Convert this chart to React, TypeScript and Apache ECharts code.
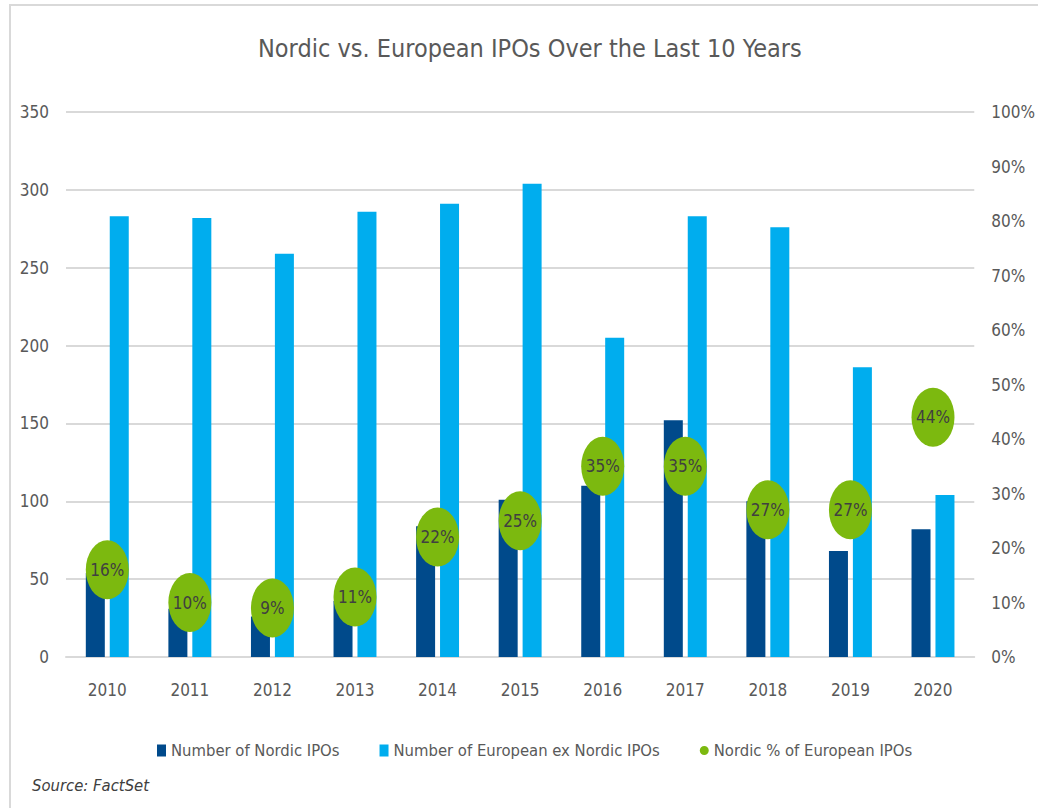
import React, { useEffect, useRef } from "react";
import * as echarts from "echarts";

const years = ["2010", "2011", "2012", "2013", "2014", "2015", "2016", "2017", "2018", "2019", "2020"];
const nordicIPOs = [54, 31, 26, 36, 84, 101, 110, 152, 100, 68, 82];
const europeanExNordicIPOs = [283, 282, 259, 286, 291, 304, 205, 283, 276, 186, 104];
const nordicPct = [16, 10, 9, 11, 22, 25, 35, 35, 27, 27, 44];
const leftTicks = { min: 0, max: 350, interval: 50 };
const rightTicks = { min: 0, max: 100, interval: 10 };

const FONT = "'Liberation Sans Narrow', 'DejaVu Sans Condensed', 'Noto Sans', sans-serif";
const ELLIPSE = "path://M0,-1 A1,1 0 1,1 0,1 A1,1 0 1,1 0,-1 Z";

export default function App() {
  const ref = useRef<HTMLDivElement>(null);
  useEffect(() => {
    if (!ref.current) return;
    const chart = echarts.init(ref.current, null, { renderer: "svg" });
    chart.setOption({
      animation: false,
      backgroundColor: "#ffffff",
      textStyle: { fontFamily: FONT },
      title: {
        text: "Nordic vs. European IPOs Over the Last 10 Years",
        left: 258,
        top: 36,
        padding: 0,
        textStyle: { fontFamily: FONT, fontSize: 25, fontWeight: "normal", color: "#595959" },
      },
      graphic: [
        {
          type: "rect",
          shape: { x: 10, y: 5, width: 1100, height: 900 },
          style: { fill: "none", stroke: "#d9d9d9", lineWidth: 2 },
          silent: true,
        },
        {
          type: "text",
          left: 32,
          top: 777,
          style: {
            text: "Source: FactSet",
            font: `italic 16.5px ${FONT}`,
            fill: "#404040",
          },
        },
      ],
      legend: {
        left: 157,
        top: 742,
        padding: 0,
        itemWidth: 9,
        itemHeight: 12,
        itemGap: 40,
        textStyle: { fontFamily: FONT, fontSize: 16.5, color: "#595959" },
        data: [
          { name: "Number of Nordic IPOs", icon: "rect" },
          { name: "Number of European ex Nordic IPOs", icon: "rect" },
          { name: "Nordic % of European IPOs", icon: ELLIPSE },
        ],
      },
      grid: { left: 66, right: 60, top: 112, bottom: 151, containLabel: false },
      xAxis: {
        type: "category",
        data: years,
        axisLine: { show: true, lineStyle: { color: "#d9d9d9", width: 2 } },
        axisTick: { show: false },
        axisLabel: { color: "#595959", fontSize: 17, fontFamily: FONT, margin: 24 },
      },
      yAxis: [
        {
          type: "value",
          min: leftTicks.min,
          max: leftTicks.max,
          interval: leftTicks.interval,
          axisLine: { show: false },
          axisTick: { show: false },
          splitLine: { show: true, lineStyle: { color: "#d9d9d9", width: 2 } },
          axisLabel: { color: "#595959", fontSize: 17, fontFamily: FONT, margin: 17 },
        },
        {
          type: "value",
          min: rightTicks.min,
          max: rightTicks.max,
          interval: rightTicks.interval,
          axisLine: { show: false },
          axisTick: { show: false },
          splitLine: { show: false },
          axisLabel: { color: "#595959", fontSize: 17, fontFamily: FONT, margin: 17, formatter: "{value}%" },
        },
      ],
      series: [
        {
          name: "Number of Nordic IPOs",
          type: "bar",
          data: nordicIPOs,
          barWidth: 19,
          barGap: "26%",
          itemStyle: { color: "#004a8b" },
        },
        {
          name: "Number of European ex Nordic IPOs",
          type: "bar",
          data: europeanExNordicIPOs,
          barWidth: 19,
          barGap: "26%",
          itemStyle: { color: "#00adee" },
        },
        {
          name: "Nordic % of European IPOs",
          type: "scatter",
          yAxisIndex: 1,
          data: nordicPct,
          symbol: ELLIPSE,
          symbolSize: [43, 59],
          symbolKeepAspect: false,
          itemStyle: { color: "#7cb90f", opacity: 1 },
          label: {
            show: true,
            position: "inside",
            formatter: "{c}%",
            color: "#404040",
            fontSize: 17,
            fontFamily: FONT,
          },
          z: 5,
        },
      ],
    });
    return () => chart.dispose();
  }, []);
  return (
    <div
      ref={ref}
      style={{ position: "absolute", left: 0, top: 0, width: 1038, height: 808 }}
    />
  );
}
